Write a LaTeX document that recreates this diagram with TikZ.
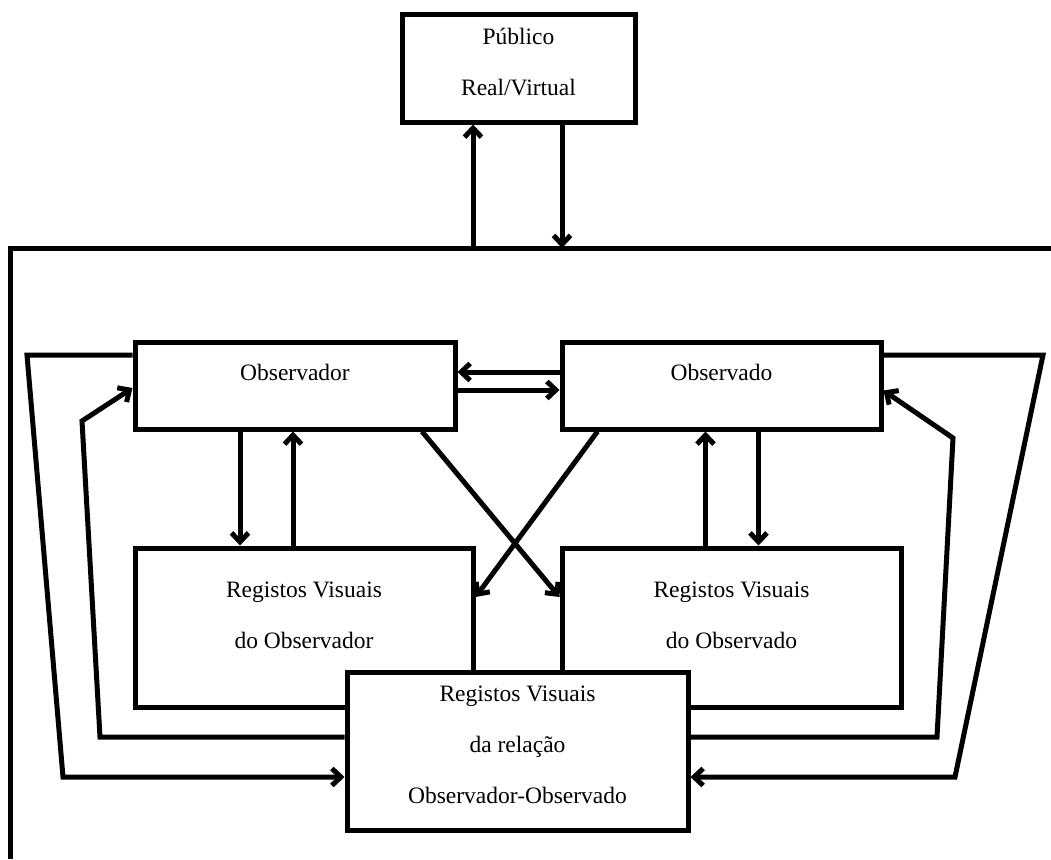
\documentclass[tikz,border=0pt]{standalone}
\usepackage{fontspec}
\setmainfont{Liberation Serif}
\usetikzlibrary{
    positioning,
    arrows.meta
}

\newcommand{\topstrut}{\rule{0pt}{18pt}}

\begin{document}
\begin{tikzpicture}[
    x=1pt, y=-1pt,
    every node/.style={font=\fontsize{23.5}{51}\selectfont},
    box/.style={rectangle, draw, line width=5pt, fill=white, inner sep=0pt},
    small/.style={box, minimum width=#1, minimum height=87pt},
    large/.style={box, minimum width=#1, minimum height=159pt},
    txt/.style={align=center, inner sep=0pt},
    wire/.style={line width=5pt},
    arrow/.style={wire, -{Straight Barb[length=9pt, width=17pt]}}
]
\useasboundingbox (0,0) rectangle (1051,859);

% ================= BOXES =================
\node[box, minimum width=233pt, minimum height=107pt] (pub) at (518.5,68.5) {};
\node[txt, below=14pt of pub.north] (pub-t) {\topstrut P\'ublico\\Real/Virtual};

\node[small=320pt] (obsr) at (295,385.5) {};
\node[txt, below=23pt of obsr.north] (obsr-t) {\topstrut Observador};

\node[small=319pt] (obsd) at (721.5,385.5) {};
\node[txt, below=23pt of obsd.north] (obsd-t) {\topstrut Observado};

\node[large=338pt] (rvobsr) at (304,627.5) {};
\node[txt, below=34pt of rvobsr.north] (rvobsr-t) {\topstrut Registos Visuais\\do Observador};

\node[large=339pt] (rvobsd) at (731.5,627.5) {};
\node[txt, below=34pt of rvobsd.north] (rvobsd-t) {\topstrut Registos Visuais\\do Observado};

% relation box sits on top of the two lower boxes
\node[box, minimum width=341pt, minimum height=158pt] (rel) at (517.5,751) {};
\node[txt, below=14pt of rel.north] (rel-t) {\topstrut Registos Visuais\\da rela\c{c}\~ao\\Observador-Observado};

% ================= FRAME =================
\coordinate (corner) at (10,248);
\draw[wire] (corner |- 0,859) -- (corner) -- (corner -| 1051,0);

% bend points of the side loops
\coordinate (lo-top) at (27,355);
\coordinate (lo-bot) at (63,777);
\coordinate (li-bot) at (100,737);
\coordinate (li-top) at (82,421);
\coordinate (ro-top) at (1043,355);
\coordinate (ro-bot) at (955,777);
\coordinate (ri-bot) at (937,737);
\coordinate (ri-top) at (953,438);

% ================= ARROWS =================
\draw[arrow] ([xshift=-45.5pt]pub.south |- corner) -- ([xshift=-45.5pt]pub.south);
\draw[arrow] ([xshift=43.5pt]pub.south) -- ([xshift=43.5pt]pub.south |- corner);

\draw[arrow] ([yshift=13.5pt]obsd.west) -- ([yshift=13.5pt]obsr.east);
\draw[arrow] ([yshift=-4.5pt]obsr.east) -- ([yshift=-4.5pt]obsd.west);

\draw[arrow] ([xshift=-55pt]obsr.south) -- ([xshift=-55pt]obsr.south |- rvobsr.north);
\draw[arrow] ([xshift=-2pt]obsr.south |- rvobsr.north) -- ([xshift=-2pt]obsr.south);
\draw[arrow] ([xshift=-16pt]obsd.south |- rvobsd.north) -- ([xshift=-16pt]obsd.south);
\draw[arrow] ([xshift=37pt]obsd.south) -- ([xshift=37pt]obsd.south |- rvobsd.north);

% crossing arrows
\draw[arrow] ([xshift=127pt]obsr.south) -- ([yshift=30.5pt]rvobsd.west);
\draw[arrow] ([xshift=-124pt]obsd.south) -- ([yshift=30.5pt]rvobsr.east);

% loops round the sides
\draw[arrow] (obsr.west |- lo-top) -- (lo-top) -- (lo-bot) -- (lo-bot -| rel.west);
\draw[arrow] (rel.west |- li-bot) -- (li-bot) -- (li-top) -- ([yshift=-2.5pt]obsr.west);
\draw[arrow] (obsd.east |- ro-top) -- (ro-top) -- (ro-bot) -- (ro-bot -| rel.east);
\draw[arrow] (rel.east |- ri-bot) -- (ri-bot) -- (ri-top) -- ([yshift=-5pt]obsd.east);

\end{tikzpicture}
\end{document}
